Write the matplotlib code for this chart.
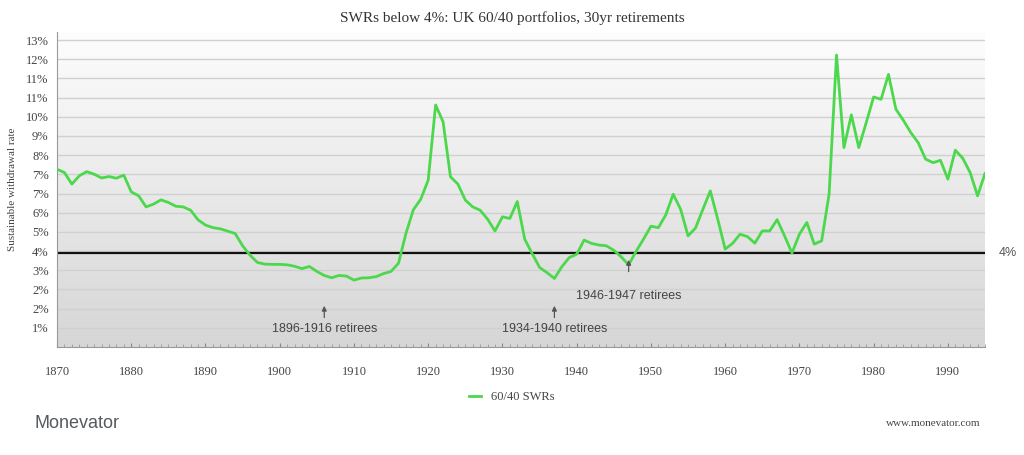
import numpy as np
import matplotlib
matplotlib.use("Agg")
import matplotlib.pyplot as plt
from matplotlib.ticker import FixedLocator, MultipleLocator
from matplotlib.colors import LinearSegmentedColormap

years = list(range(1870, 1996))
swr = [7.55, 7.41, 6.92, 7.27, 7.45, 7.34, 7.18, 7.24, 7.17, 7.30,
       6.59, 6.42, 5.95, 6.07, 6.25, 6.14, 5.98, 5.95, 5.81, 5.40,
       5.18, 5.07, 5.02, 4.92, 4.82, 4.30, 3.90, 3.59, 3.52, 3.51,
       3.51, 3.49, 3.43, 3.33, 3.42, 3.21, 3.04, 2.94, 3.04, 3.01,
       2.84, 2.93, 2.94, 2.99, 3.12, 3.21, 3.56, 4.82, 5.83, 6.28,
       7.09, 10.28, 9.57, 7.23, 6.92, 6.24, 5.95, 5.81, 5.43, 4.93,
       5.53, 5.46, 6.18, 4.58, 3.97, 3.38, 3.16, 2.91, 3.41, 3.80,
       3.94, 4.54, 4.40, 4.33, 4.30, 4.11, 3.83, 3.49, 4.06, 4.58,
       5.13, 5.07, 5.61, 6.49, 5.85, 4.72, 5.05, 5.85, 6.63, 5.43,
       4.16, 4.40, 4.79, 4.69, 4.41, 4.93, 4.93, 5.41, 4.72, 3.99,
       4.79, 5.29, 4.37, 4.51, 6.49, 12.40, 8.47, 9.86, 8.47, 9.53,
       10.62, 10.52, 11.58, 10.10, 9.63, 9.11, 8.68, 7.98, 7.83, 7.93,
       7.13, 8.36, 8.02, 7.41, 6.42, 7.37]
threshold = 4.0
annotations = [("1896-1916 retirees", 1906, 1.75, 1.25, 0.77),
               ("1934-1940 retirees", 1937, 1.75, 1.25, 0.77),
               ("1946-1947 retirees", 1947, 3.70, 3.20, 2.17)]
step = 0.815
yticks = [step * k for k in range(1, 17)]
xticks = list(range(1870, 1991, 10))

fig = plt.figure(figsize=(10.24, 4.55), dpi=100)
ax = fig.add_axes([57/1024, 1-347/455, (985-57)/1024, (347-32)/455])
ymax = 16 * step + 0.34
ax.set_xlim(1870, 1995)
ax.set_ylim(0, ymax)
grad = np.linspace(1, 0, 256).reshape(-1, 1)
cmap = LinearSegmentedColormap.from_list("g", ["#d6d6d6", "#fdfdfd"])
ax.imshow(grad, aspect="auto", cmap=cmap, extent=[1870, 1995, 0, ymax], origin="upper", zorder=0, vmin=0, vmax=1)
for v in yticks:
    ax.axhline(v, color="#d0d0d0", lw=1, zorder=1)
ax.axhline(threshold, color="#111111", lw=1.6, zorder=2)
ax.plot(years, swr, color="#4cd84c", lw=2, zorder=3, label="60/40 SWRs")

for txt, x, tip, tail, ty in annotations:
    ax.annotate("", xy=(x, tip), xytext=(x, tail),
                arrowprops=dict(arrowstyle="-|>", color="#555555", lw=0.9, mutation_scale=7,
                                shrinkA=0, shrinkB=0), zorder=4)
    ax.text(x, ty, txt, ha="center", va="center", fontsize=9, color="#444444", family="Liberation Sans")

ax.text(1.015, threshold/ymax, "4%", transform=ax.transAxes, ha="left", va="center", fontsize=9, color="#555555", family="Liberation Sans")

ax.yaxis.set_major_locator(FixedLocator(yticks))
ax.set_yticklabels([f"{round(v)}%" for v in yticks], family="Liberation Serif", fontsize=9, color="#444444")
ax.xaxis.set_major_locator(FixedLocator(xticks))
ax.xaxis.set_minor_locator(MultipleLocator(1))
ax.set_xticklabels([str(x) for x in xticks], family="Liberation Serif", fontsize=9, color="#444444")
ax.tick_params(axis="y", length=0, pad=6)
ax.tick_params(axis="x", which="major", length=3, color="#888888", pad=14, direction="in")
ax.tick_params(axis="x", which="minor", length=2, color="#999999", direction="in")
for s in ["top", "right"]:
    ax.spines[s].set_visible(False)
ax.spines["left"].set_color("#999999")
ax.spines["bottom"].set_color("#999999")
ax.set_ylabel("Sustainable withdrawal rate", family="Liberation Serif", fontsize=8, color="#444444", labelpad=6)

fig.text(0.5, 1-18/455, "SWRs below 4%: UK 60/40 portfolios, 30yr retirements", ha="center", va="center",
         family="Liberation Serif", fontsize=11, color="#333333")
fig.legend(loc="center", bbox_to_anchor=(0.5, 1-397/455), frameon=False,
           prop={"family": "Liberation Serif", "size": 9}, handlelength=1.0, labelcolor="#444444")
fig.text(35/1024, 1-424/455, "Monevator", ha="left", va="center", family="Liberation Sans", fontsize=13, color="#555a5e")
fig.text(980/1024, 1-424/455, "www.monevator.com", ha="right", va="center", family="Liberation Serif", fontsize=8, color="#444444")
fig.savefig("out.png", dpi=100)
